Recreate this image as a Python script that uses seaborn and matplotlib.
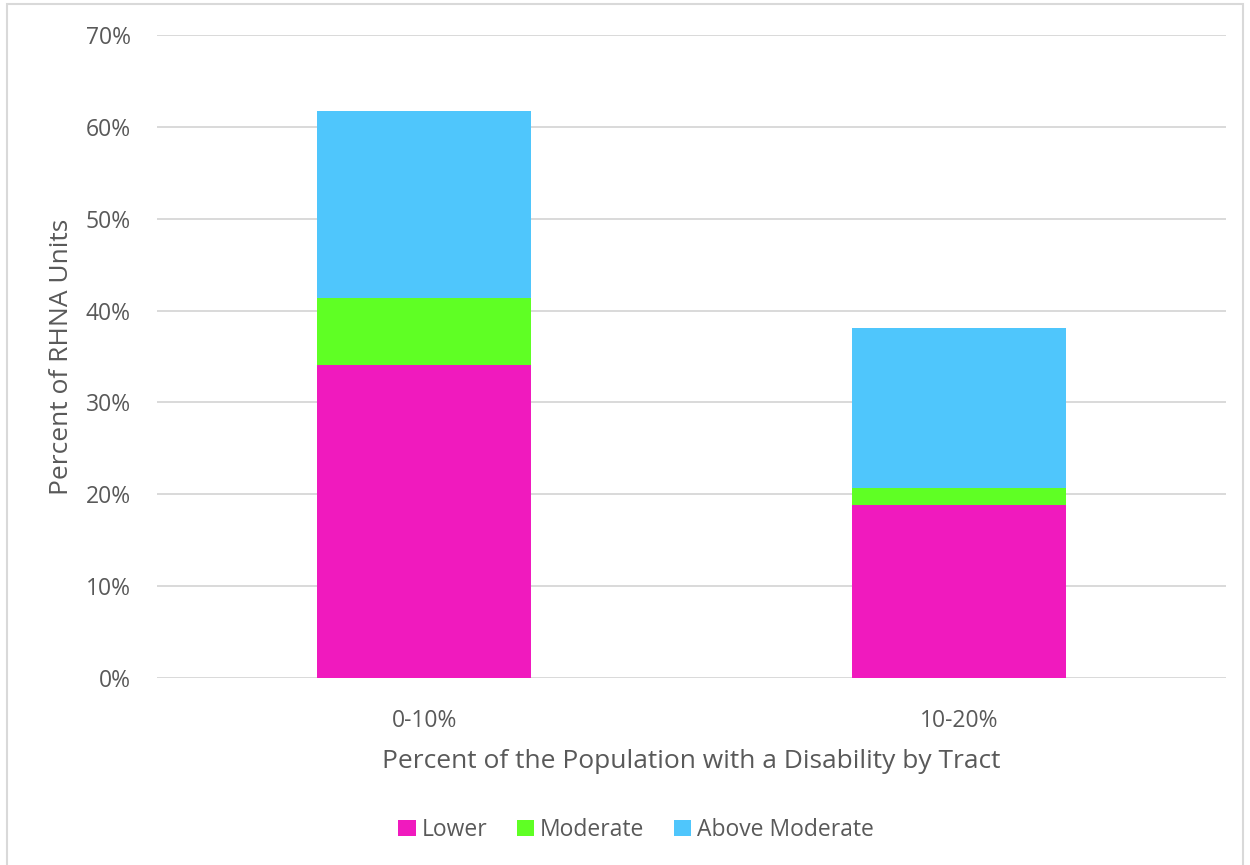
import matplotlib
matplotlib.use("Agg")
import matplotlib.pyplot as plt
from matplotlib.patches import Patch, Rectangle
import seaborn as sns
import pandas as pd
import numpy as np

# Share of RHNA units by tract disability rate, split by income tier (percent)
categories = ["0-10%", "10-20%"]
lower = [34.1, 18.8]
moderate = [7.3, 1.9]
above_moderate = [20.3, 17.4]

tiers = ["Lower", "Moderate", "Above Moderate"]
colors = {"Lower": "#F01ABE", "Moderate": "#5FFF24", "Above Moderate": "#4FC6FC"}

sns.set_theme(style="white")
plt.rcParams["font.family"] = ["Open Sans", "DejaVu Sans"]

text_color = "#595959"
grid_color = "#D9D9D9"

fig = plt.figure(figsize=(12.5, 8.65), dpi=100)
ax = fig.add_axes([157 / 1250, 1 - 678 / 865, (1226 - 157) / 1250, (678 - 35) / 865])

df = pd.DataFrame({
    "category": categories,
    "Lower": lower,
    "Moderate": moderate,
    "Above Moderate": above_moderate,
})
# Cumulative tops so each tier sits on the one below it
cum = df[tiers].cumsum(axis=1)

for tier in reversed(tiers):
    sns.barplot(x=df["category"], y=cum[tier], color=colors[tier], width=0.4,
                ax=ax, saturation=1, edgecolor="none", linewidth=0, zorder=3)

ax.set_ylim(0, 70)
ax.set_xlim(-0.5, 1.5)
ax.set_yticks(np.arange(0, 71, 10))
ax.set_yticklabels([f"{v}%" for v in range(0, 71, 10)])
ax.yaxis.grid(True, color=grid_color, linewidth=1.4, zorder=0)
ax.set_axisbelow(True)
for s in ax.spines.values():
    s.set_visible(False)
ax.tick_params(axis="both", length=0, labelsize=16.5, colors=text_color)
ax.tick_params(axis="y", pad=19)
ax.tick_params(axis="x", pad=22)

ax.set_xlabel("Percent of the Population with a Disability by Tract",
              fontsize=19, color=text_color, labelpad=12)
ax.set_ylabel("Percent of RHNA Units", fontsize=19, color=text_color, labelpad=8)

handles = [Patch(facecolor=colors[t], edgecolor="none", label=t) for t in tiers]
fig.legend(handles=handles, loc="center", bbox_to_anchor=(636 / 1250, 1 - 830 / 865),
           ncol=3, frameon=False, fontsize=16.5, handlelength=0.75, handleheight=0.75,
           handletextpad=0.25, columnspacing=1.3, labelcolor=text_color)

# Light outline around the whole chart area
fig.patches.append(Rectangle((7 / 1250, -0.01), (1243 - 7) / 1250, 1 - 4 / 865 + 0.01,
                             transform=fig.transFigure, fill=False,
                             edgecolor="#D9D9D9", linewidth=1.5))

fig.savefig("out.png", dpi=100, facecolor="white")
